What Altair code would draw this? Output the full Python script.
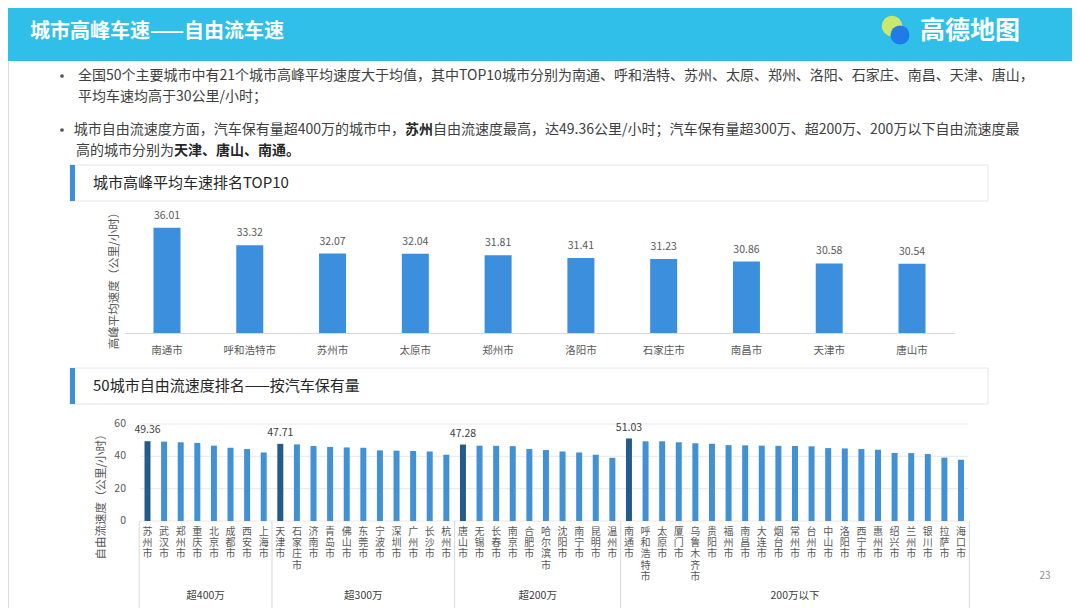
import altair as alt
import pandas as pd

FONT = "Noto Sans CJK SC"

# ---------------- data ----------------
top_cities = ["南通市", "呼和浩特市", "苏州市", "太原市", "郑州市", "洛阳市", "石家庄市", "南昌市", "天津市", "唐山市"]
top_speeds = [36.01, 33.32, 32.07, 32.04, 31.81, 31.41, 31.23, 30.86, 30.58, 30.54]

group_names = ["超400万", "超300万", "超200万", "200万以下"]
g400_cities = ["苏州市", "武汉市", "郑州市", "重庆市", "北京市", "成都市", "西安市", "上海市"]
g400_speeds = [49.36, 49.1, 48.7, 48.3, 46.6, 45.3, 44.5, 42.4]
g300_cities = ["天津市", "石家庄市", "济南市", "青岛市", "佛山市", "东莞市", "宁波市", "深圳市", "广州市", "长沙市", "杭州市"]
g300_speeds = [47.71, 47.4, 46.4, 45.8, 45.5, 45.3, 43.7, 43.5, 43.3, 43.0, 41.0]
g200_cities = ["唐山市", "无锡市", "长春市", "南京市", "合肥市", "哈尔滨市", "沈阳市", "南宁市", "昆明市", "温州市"]
g200_speeds = [47.28, 46.6, 46.5, 46.3, 44.5, 43.9, 43.0, 42.4, 41.0, 39.1]
glow_cities = ["南通市", "呼和浩特市", "太原市", "厦门市", "乌鲁木齐市", "贵阳市", "福州市", "南昌市", "大连市", "烟台市",
               "常州市", "台州市", "中山市", "洛阳市", "西宁市", "惠州市", "绍兴市", "兰州市", "银川市", "拉萨市", "海口市"]
glow_speeds = [51.03, 49.3, 49.3, 48.7, 48.1, 47.8, 46.9, 46.8, 46.6, 46.5,
               46.4, 46.2, 45.1, 44.9, 44.5, 44.1, 42.1, 42.0, 41.4, 39.2, 37.9]
y_ticks = [0, 20, 40, 60]

# ---------------- tables ----------------
df_top = pd.DataFrame({"city": top_cities, "speed": top_speeds})

rows = []
for gname, cities, speeds in zip(group_names,
                                 [g400_cities, g300_cities, g200_cities, glow_cities],
                                 [g400_speeds, g300_speeds, g200_speeds, glow_speeds]):
    mx = max(speeds)
    for c, s in zip(cities, speeds):
        rows.append({"city": c, "speed": s, "group": gname,
                     "top": "y" if s == mx else "n",
                     "vlabel": "\n".join(c)})
df_bot = pd.DataFrame(rows)
all_cities = list(df_bot["city"])
counts = [len(g400_cities), len(g300_cities), len(g200_cities), len(glow_cities)]
bounds = [0]
for n in counts:
    bounds.append(bounds[-1] + n)
df_bounds = pd.DataFrame({"b": bounds})
df_glab = pd.DataFrame({"group": group_names,
                        "c": [(bounds[i] + bounds[i + 1]) / 2 for i in range(len(counts))]})
df_grid = pd.DataFrame({"v": y_ticks})
df_max = df_bot[df_bot["top"] == "y"]

ONE = alt.Data(values=[{}])


def txt(s, x, y, size=14, color="#404040", weight="normal", align="left",
        baseline="middle", angle=0):
    return alt.Chart(ONE).mark_text(text=s, fontSize=size, color=color, fontWeight=weight,
                                    align=align, baseline=baseline, angle=angle,
                                    font=FONT).encode(x=alt.value(x), y=alt.value(y))


def rect(x, x2, y, y2, fill, stroke=None):
    kw = dict(fill=fill)
    if stroke:
        kw.update(stroke=stroke, strokeWidth=1)
    return alt.Chart(ONE).mark_rect(**kw).encode(
        x=alt.value(x), x2=alt.value(x2), y=alt.value(y), y2=alt.value(y2))


layers = []

# ---------------- banner ----------------
layers.append(rect(0, 1064, 0, 53, "#2FBFE9"))
layers.append(txt("城市高峰车速——自由流车速", 22, 24, size=20, color="#FFFFFF", weight="bold"))
layers.append(alt.Chart(ONE).mark_point(filled=True, size=420, color="#C9E86E", opacity=1).encode(
    x=alt.value(884), y=alt.value(18)))
layers.append(alt.Chart(ONE).mark_point(filled=True, size=360, color="#1E7BE8", opacity=1).encode(
    x=alt.value(892), y=alt.value(27)))
layers.append(txt("高德地图", 912, 23, size=25, color="#FFFFFF", weight="bold"))

# ---------------- bullets ----------------
for yy in [68, 122]:
    layers.append(alt.Chart(ONE).mark_circle(size=14, color="#555555", opacity=1).encode(
        x=alt.value(54), y=alt.value(yy)))
layers.append(txt("全国50个主要城市中有21个城市高峰平均速度大于均值，其中TOP10城市分别为南通、呼和浩特、苏州、太原、郑州、洛阳、石家庄、南昌、天津、唐山，", 70, 68))
layers.append(txt("平均车速均高于30公里/小时；", 70, 89))
X3 = 397
layers.append(txt("城市自由流速度方面，汽车保有量超400万的城市中，", X3, 122, align="right"))
layers.append(txt("苏州", X3, 122, weight="bold", color="#262626"))
layers.append(txt("自由流速度最高，达49.36公里/小时；汽车保有量超300万、超200万、200万以下自由流速度最", X3 + 28, 122))
X4 = 166
layers.append(txt("高的城市分别为", X4, 143, align="right"))
layers.append(txt("天津、唐山、南通。", X4, 143, weight="bold", color="#262626"))

# ---------------- section headers ----------------
for (y0, y1, title) in [(157, 193, "城市高峰平均车速排名TOP10"), (360, 396, "50城市自由流速度排名——按汽车保有量")]:
    layers.append(rect(62, 980, y0, y1, "#FFFFFF", stroke="#E6E6E6"))
    layers.append(rect(62, 67, y0, y1, "#3C8FDD"))
    layers.append(txt(title, 85, (y0 + y1) / 2, size=15, color="#262626"))

# ---------------- top chart ----------------
xs_top = alt.X("city:N", sort=top_cities,
               scale=alt.Scale(domain=top_cities, range=[117.6, 945.4], paddingInner=0, paddingOuter=0),
               axis=None)
ys_top = alt.Y("speed:Q", scale=alt.Scale(domain=[20, 40], range=[325, 193.4], nice=False, zero=False),
               axis=None)
layers.append(alt.Chart(df_top).mark_rule(color="#D9D9D9").encode(
    x=alt.value(117), x2=alt.value(947), y=alt.value(325.5)))
layers.append(alt.Chart(df_top).mark_bar(size=27, color="#3C8FDD").encode(
    x=xs_top, y=ys_top, y2=alt.datum(20)))
layers.append(alt.Chart(df_top).mark_text(dy=-7, baseline="bottom", fontSize=10.5, color="#595959",
                                          font=FONT).encode(
    x=xs_top, y=ys_top, text=alt.Text("speed:Q", format=".2f")))
layers.append(alt.Chart(df_top).mark_text(baseline="middle", fontSize=10.5, color="#595959",
                                          font=FONT).encode(
    x=xs_top, y=alt.value(343), text="city:N"))
layers.append(txt("高峰平均速度（公里/小时）", 107, 270, size=11.5, color="#595959", align="center", angle=270))

# ---------------- bottom chart ----------------
xs_b = alt.X("city:N", sort=all_cities,
             scale=alt.Scale(domain=all_cities, range=[131.2, 961.3], paddingInner=0, paddingOuter=0),
             axis=None)
ys_scale = alt.Scale(domain=[0, 60], range=[513, 416], nice=False, zero=False)
ys_b = alt.Y("speed:Q", scale=ys_scale, axis=None)

layers.append(alt.Chart(df_grid).mark_rule(color="#E8E8E8").encode(
    y=alt.Y("v:Q", scale=ys_scale, axis=None), x=alt.value(132), x2=alt.value(960)))
layers.append(alt.Chart(df_grid).mark_text(align="right", baseline="middle", fontSize=10.5,
                                           color="#595959", font=FONT).encode(
    y=alt.Y("v:Q", scale=ys_scale, axis=None), x=alt.value(118), text="v:Q"))
layers.append(txt("自由流速度（公里/小时）", 94, 486, size=11.5, color="#595959", align="center", angle=270))

layers.append(alt.Chart(df_bot).mark_bar(size=6).encode(
    x=xs_b, y=ys_b, y2=alt.datum(0),
    color=alt.Color("top:N", scale=alt.Scale(domain=["n", "y"], range=["#4391D5", "#245B8A"]), legend=None)))
layers.append(alt.Chart(df_max).mark_text(dy=-6, baseline="bottom", fontSize=10.5, color="#404040",
                                          font=FONT).encode(
    x=xs_b, y=ys_b, text=alt.Text("speed:Q", format=".2f")))
layers.append(alt.Chart(df_bot).mark_text(baseline="top", fontSize=10, lineHeight=11.2, lineBreak="\n",
                                          color="#595959", font=FONT).encode(
    x=xs_b, y=alt.value(519), text="vlabel:N"))

xq = alt.X("b:Q", scale=alt.Scale(domain=[0, 50], range=[131.2, 961.3], nice=False, zero=False), axis=None)
layers.append(alt.Chart(df_bounds).mark_rule(color="#D9D9D9").encode(
    x=xq, y=alt.value(513), y2=alt.value(600)))
layers.append(alt.Chart(df_glab).mark_text(baseline="middle", fontSize=10.5, color="#404040",
                                           font=FONT).encode(
    x=alt.X("c:Q", scale=alt.Scale(domain=[0, 50], range=[131.2, 961.3], nice=False, zero=False), axis=None),
    y=alt.value(588), text="group:N"))

layers.append(txt("23", 1037, 568, size=10, color="#8C8C8C", align="center"))

chart = alt.layer(*layers).resolve_scale(
    x="independent", y="independent", color="independent"
).properties(
    width=1064, height=600, autosize=alt.AutoSizeParams(type="none"), padding=0
).configure_view(stroke=None).configure(background="#FFFFFF")

chart.save("out.html", embed_options={"renderer": "svg", "actions": False})
